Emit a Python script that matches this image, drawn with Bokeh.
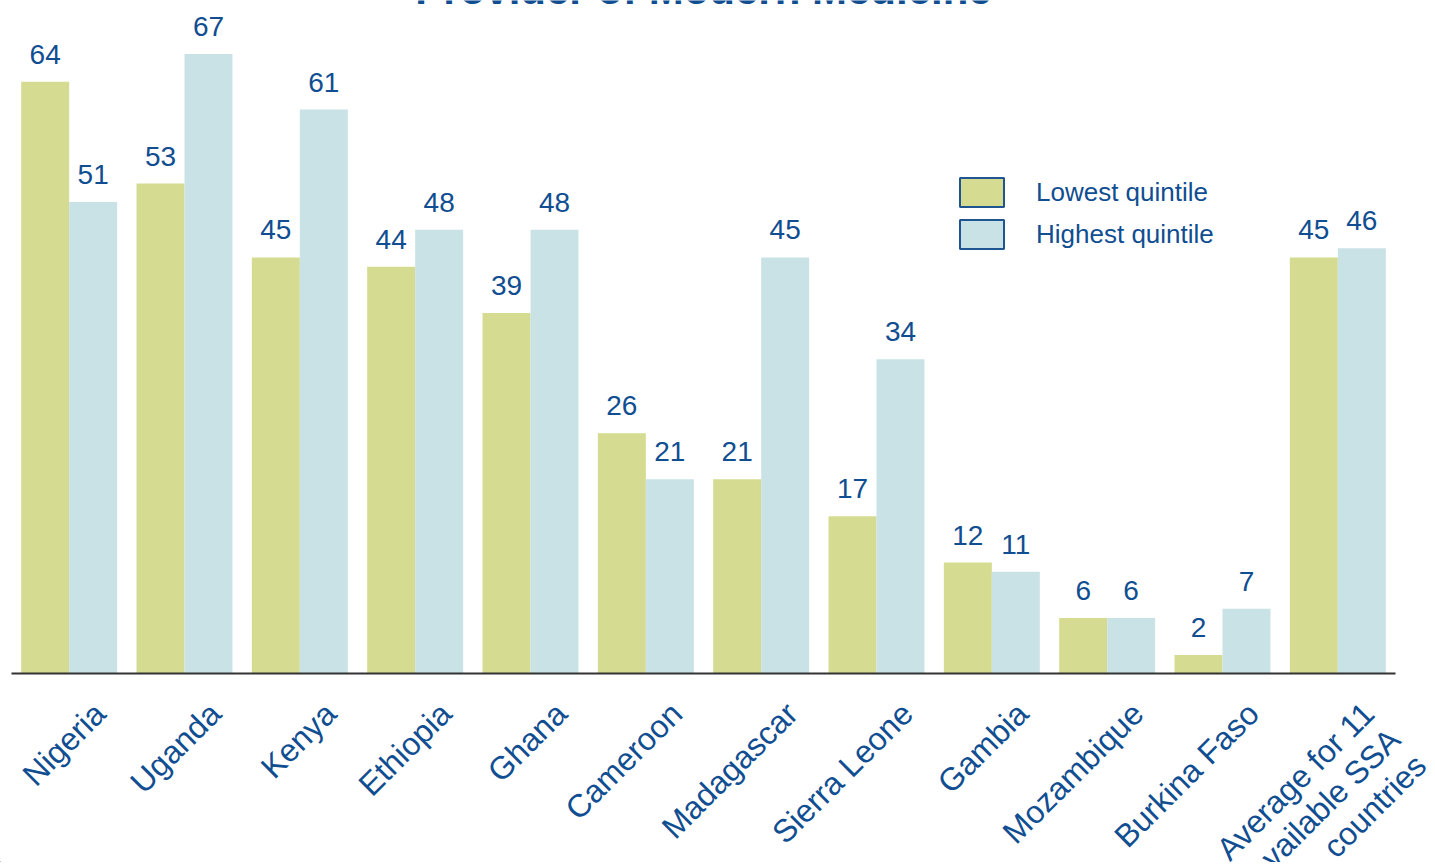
from math import pi
from bokeh.plotting import figure
from bokeh.models import (ColumnDataSource, Range1d, LabelSet, Legend, LegendItem)
from bokeh.core.properties import value
from bokeh.transform import dodge
from bokeh.embed import file_html
from bokeh.resources import INLINE

# ---- data -------------------------------------------------------------
title = "Provider of Modern Medicine"
countries = ["Nigeria", "Uganda", "Kenya", "Ethiopia", "Ghana", "Cameroon",
             "Madagascar", "Sierra Leone", "Gambia", "Mozambique", "Burkina Faso",
             "Average for 11\navailable SSA\ncountries"]
lowest = [64, 53, 45, 44, 39, 26, 21, 17, 12, 6, 2, 45]
highest = [51, 67, 61, 48, 48, 21, 45, 34, 11, 6, 7, 46]
series_names = ["Lowest quintile", "Highest quintile"]

# ---- styles / layout -------------------------------------------------
FONT_NAME = "Liberation Sans"
TEXT = "#104e91"
C_LOW = "#d5db91"
C_HIGH = "#c9e2e6"
BORDER = "#1f5590"
AXIS = "#333333"
BAR_W = 0.416
OFF = 0.208
W, H = 1432, 862
LEFT_PX, RIGHT_PX = 11, 37       # space left/right of the group area
BASE_PX = 673                    # pixel row of the baseline
Y_TOP = 72.8                     # value at the top edge
LAB_DX, LAB_DY, LINE_STEP = 18, -22, 26   # rotated label placement (px)

n = len(countries)
idx = list(range(n))
x_per_px = n / (W - LEFT_PX - RIGHT_PX)
y_per_px = Y_TOP / BASE_PX
y_start = -(H - BASE_PX) * y_per_px
x_start = -0.5 - LEFT_PX * x_per_px

src = ColumnDataSource(dict(
    idx=idx,
    country=countries,
    low=lowest,
    high=highest,
    low_lbl=[str(v) for v in lowest],
    high_lbl=[str(v) for v in highest],
))

# one row per label line, each line right-aligned and stepped along the normal
rows = dict(idx=[], line=[], dx=[], dy=[])
for i, c in zip(idx, countries):
    for k, line in enumerate(c.split("\n")):
        rows["idx"].append(i)
        rows["line"].append(line)
        rows["dx"].append(LAB_DX + k * LINE_STEP)
        rows["dy"].append(LAB_DY - k * LINE_STEP)
lab_src = ColumnDataSource(rows)

p = figure(width=W, height=H,
           x_range=Range1d(x_start, n - 0.5 + RIGHT_PX * x_per_px),
           y_range=Range1d(y_start, Y_TOP),
           output_backend="svg", toolbar_location=None,
           x_axis_location=None, y_axis_location=None,
           min_border=0)
p.outline_line_color = None
p.xgrid.visible = False
p.ygrid.visible = False
p.background_fill_color = "white"
p.border_fill_color = "white"

p.vbar(x=dodge("idx", -OFF), top="low", width=BAR_W,
       source=src, fill_color=C_LOW, line_color=None)
p.vbar(x=dodge("idx", OFF), top="high", width=BAR_W,
       source=src, fill_color=C_HIGH, line_color=None)

spec_text = dict(text_font=value(FONT_NAME), text_color=TEXT)
p.add_layout(LabelSet(x=dodge("idx", -OFF), y="low", text="low_lbl",
                      source=src, text_align="center", text_baseline="alphabetic",
                      y_offset=18, text_font_size="28px", **spec_text))
p.add_layout(LabelSet(x=dodge("idx", OFF), y="high", text="high_lbl",
                      source=src, text_align="center", text_baseline="alphabetic",
                      y_offset=18, text_font_size="28px", **spec_text))

# legend proxies, kept off-canvas (only their legend swatches are seen)
hid_x, hid_y = 2 * x_start - n, 2 * y_start
r_low = p.vbar(x=[hid_x], top=[hid_y], bottom=[hid_y], width=0,
               fill_color=C_LOW, line_color=BORDER, line_width=2)
r_high = p.vbar(x=[hid_x], top=[hid_y], bottom=[hid_y], width=0,
                fill_color=C_HIGH, line_color=BORDER, line_width=2)

# axis line across the group area
p.segment(x0=[idx[0] - 0.5], x1=[idx[-1] + 0.5], y0=[0], y1=[0],
          line_color=AXIS, line_width=2)

# category labels (rotated)
p.add_layout(LabelSet(x="idx", y=0, text="line", source=lab_src,
                      angle=pi / 4, text_align="right", text_baseline="top",
                      x_offset="dx", y_offset="dy", text_font_size="32px",
                      **spec_text))

# title (cut off at the top like the reference)
title_src = ColumnDataSource(dict(x=[(idx[0] + idx[-1]) / 2], t=[title]))
p.add_layout(LabelSet(x="x", y=Y_TOP, text="t",
                      source=title_src, text_align="center", text_baseline="alphabetic",
                      y_offset=-3, text_font_style="bold", text_font_size="42px",
                      **spec_text))

legend = Legend(items=[LegendItem(label=series_names[0], renderers=[r_low]),
                       LegendItem(label=series_names[1], renderers=[r_high])],
                location=(954, H - 252), glyph_width=55, glyph_height=36,
                label_standoff=27, spacing=6, padding=0, margin=0,
                border_line_color=None, background_fill_alpha=0,
                label_text_font=FONT_NAME, label_text_font_size="26px",
                label_text_color=TEXT, label_text_baseline="middle")
p.add_layout(legend)

open("out.html", "w").write(file_html(p, INLINE))
